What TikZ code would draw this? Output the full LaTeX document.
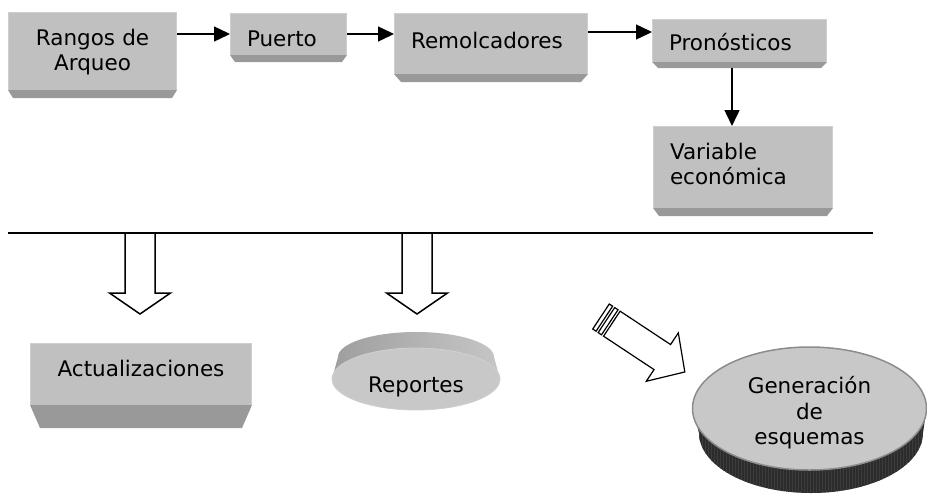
\documentclass[tikz,border=0pt]{standalone}
\usepackage{fontspec}
\setmainfont{DejaVu Sans}
\usetikzlibrary{shapes.geometric,arrows.meta,calc}

\definecolor{faceg}{HTML}{C0C0C0}
\definecolor{bevelg}{HTML}{999999}
\definecolor{hilite}{HTML}{CFCFCF}
\definecolor{diskface}{HTML}{C8C8C8}
\definecolor{diskrim}{HTML}{2C2C2C}
\definecolor{rimline}{HTML}{3C3C3C}
\definecolor{bandleft}{HTML}{9E9E9E}
\definecolor{bandmid}{HTML}{8A8A8A}
\definecolor{bandright}{HTML}{C6C6C6}
\definecolor{repedge}{HTML}{D0D0D0}
\definecolor{genedge}{HTML}{8C8C8C}

% bevel strip under a panel: node name, depth, inset
\newcommand\boxbevel[3]{%
  \fill[bevelg] (#1.south west) -- (#1.south east)
    -- ([xshift=-#3pt,yshift=-#2pt]#1.south east)
    -- ([xshift=#3pt,yshift=-#2pt]#1.south west) -- cycle;
  \draw[hilite, line width=1.2pt]
    ([xshift=0.6pt]#1.south west) -- ([xshift=0.6pt,yshift=-0.6pt]#1.north west)
    -- ([xshift=-0.6pt,yshift=-0.6pt]#1.north east) -- ([xshift=-0.6pt]#1.south east);
}

\tikzset{
  txt/.style={font=\fontsize{21.5pt}{25.5pt}\selectfont},
  panel/.style={txt, rectangle, fill=faceg, anchor=north west, inner ysep=0pt,
    inner xsep=17pt, outer sep=0pt},
  conn/.style={draw, line width=1.5pt, -{Triangle[length=16pt,width=15pt]}},
  hollow/.style={draw=black, fill=white, line width=1.5pt, line join=miter},
  disktop/.style={txt, ellipse, fill=diskface, inner sep=0pt, align=center},
  pics/downblock/.style={code={
    \draw[hollow] (-15,0) -- (15,0) -- (15,60) -- (30.5,60) -- (0,81)
      -- (-30.5,60) -- (-15,60) -- cycle;}},
}

\begin{document}
\begin{tikzpicture}[x=1pt,y=-1pt]
\useasboundingbox (0,0) rectangle (927,496);

% ---------- upper chain of panels ----------
\node[panel, align=center, inner xsep=0pt, text width=169pt, minimum height=78pt,
  text height=18pt, text depth=30pt] (rangos) at (8,12) {Rangos de\\Arqueo};
\boxbevel{rangos}{8}{5}

\node[panel, align=left, text width=83pt, minimum height=42pt,
  text height=24pt, text depth=0pt] (puerto) at (230,13) {Puerto};
\boxbevel{puerto}{7}{5}

\node[panel, align=left, text width=160pt, minimum height=61pt,
  text height=12pt, text depth=3pt] (remol) at (394,13) {Remolcadores};
\boxbevel{remol}{8}{7}

\node[panel, align=left, text width=141pt, minimum height=43pt,
  text height=19pt, text depth=0pt] (pron) at (652,19) {Pronósticos};
\boxbevel{pron}{6}{6}

\node[panel, align=left, text width=146pt, minimum height=82pt,
  text height=9.5pt, text depth=25.5pt] (var) at (653,126) {Variable\\económica};
\boxbevel{var}{8}{6}

% connectors of the chain
\draw[conn] (rangos.east |- puerto.west) -- (puerto.west);
\draw[conn] (puerto.east) -- (puerto.east -| remol.west);
\coordinate (p3) at ([yshift=8.5pt]pron.west);
\draw[conn] (remol.east |- p3) -- (p3);
\coordinate (p4) at ([xshift=-7.5pt,yshift=-6pt]pron.south);
\draw[conn] (p4) -- (p4 |- var.north);

% ---------- dividing rule ----------
\coordinate (rule-l) at (8,233);
\coordinate (rule-r) at (873,233);
\draw[line width=1.5pt] (rule-l) -- (rule-r);

% block arrows hanging from the rule
\pic at (140,233) {downblock};
\pic at (417,233) {downblock};

% ---------- lower panel ----------
\node[panel, align=center, text width=188pt, minimum height=62pt,
  text height=16pt, text depth=12pt] (actu) at (30,343) {Actualizaciones};
\boxbevel{actu}{23}{10}

% ---------- Reportes disk ----------
\shade[left color=bandleft, middle color=bandmid, right color=bandright]
  (338,357) arc[start angle=180, end angle=360, x radius=78, y radius=25]
  -- (500,379) -- (332,379) -- cycle;
\node[disktop, draw=repedge, line width=0.8pt, minimum width=168pt,
  minimum height=62pt, text height=26pt, text depth=0pt] (rep) at (416,379) {Reportes};

% ---------- Generación disk ----------
\fill[diskrim] (692.5,408.5) -- (699,433)
  arc[start angle=180, end angle=0, x radius=112, y radius=60]
  -- (926.5,408.5) -- cycle;
\begin{scope}
  \clip (692.5,408.5) -- (699,433)
    arc[start angle=180, end angle=0, x radius=112, y radius=60]
    -- (926.5,408.5) -- cycle;
  \foreach \x in {690,693,...,930}
    \draw[rimline, line width=0.8pt] (\x,400) -- (\x,496);
\end{scope}
\node[disktop, draw=genedge, line width=1.5pt, minimum width=234pt,
  minimum height=123pt, text width=124pt, text height=28.5pt, text depth=58pt]
  (gen) at (809.5,408.5) {Generación\\de\\esquemas};

% ---------- striped arrow toward the disk ----------
\begin{scope}[shift={(601,316.5)}, x={(0.834pt,-0.552pt)}, y={(-0.552pt,-0.834pt)}]
  \draw[hollow, line width=1.2pt] (0,-15) -- (4,-15) -- (4,15) -- (0,15) -- cycle;
  \draw[hollow, line width=1.2pt] (6.5,-15) -- (10.5,-15) -- (10.5,15) -- (6.5,15) -- cycle;
  \draw[hollow, line width=1.2pt] (13,-15) -- (73.5,-15) -- (73.5,-29) -- (100.5,0)
    -- (73.5,29) -- (73.5,15) -- (13,15) -- cycle;
\end{scope}
\end{tikzpicture}
\end{document}
